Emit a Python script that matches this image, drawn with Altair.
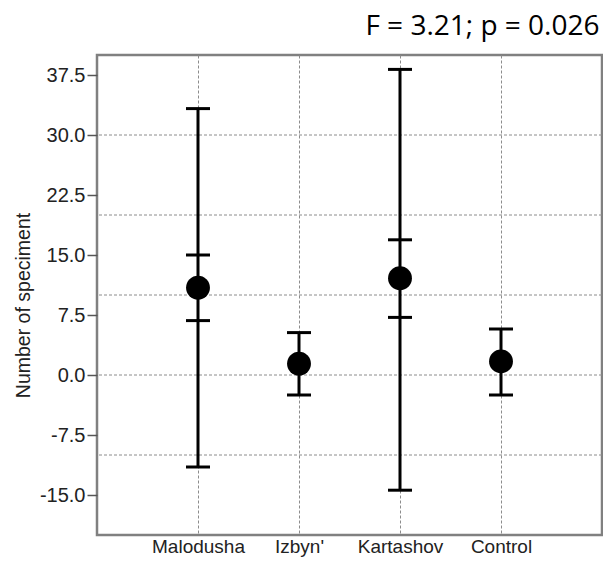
import altair as alt
import pandas as pd

groups = ["Malodusha", "Izbyn'", "Kartashov", "Control"]
means = [10.9, 1.4, 12.1, 1.7]
outer_low = [-11.5, -2.5, -14.4, -2.5]
outer_high = [33.3, 5.3, 38.2, 5.75]
inner_low = [6.8, None, 7.2, None]
inner_high = [15.0, None, 16.9, None]

y_ticks = [-15.0, -7.5, 0.0, 7.5, 15.0, 22.5, 30.0, 37.5]
h_grid = [-10, 0, 10, 20, 30]
title_text = "F = 3.21; p = 0.026"

main = pd.DataFrame({"group": groups, "mean": means, "lo": outer_low, "hi": outer_high})
caps_rows = []
for g, a, b, c, d in zip(groups, outer_low, outer_high, inner_low, inner_high):
    for v in (a, b, c, d):
        if v is not None:
            caps_rows.append({"group": g, "v": v})
caps = pd.DataFrame(caps_rows)
grid = pd.DataFrame({"g": h_grid})

FONT = "Liberation Sans"
yscale = alt.Scale(domain=[-20, 40], nice=False, zero=False)
xscale = alt.Scale(type="point", domain=groups, padding=1)

xaxis = alt.Axis(
    title=None, ticks=False, domain=False, labelFont=FONT, labelFontSize=19,
    labelColor="#222", labelPadding=2, labelAngle=0,
    grid=True, gridDash=[3, 2], gridColor="#8c8c8c", gridWidth=1,
)
yaxis = alt.Axis(
    values=y_ticks, title="Number of speciment",
    labelExpr="replace(format(datum.value, '.1f'), '\u2212', '-')",
    titleFont=FONT, titleFontSize=19.5, titleFontWeight="normal", titleColor="#222",
    titlePadding=6, titleY=250, labelFont=FONT, labelFontSize=20, labelColor="#222",
    labelPadding=2, tickSize=10, tickColor="#555", tickWidth=1.5,
    domain=False, grid=False,
)

grid_layer = alt.Chart(grid).mark_rule(
    color="#8c8c8c", strokeDash=[3, 2], strokeWidth=1
).encode(y=alt.Y("g:Q", scale=yscale, axis=yaxis))

bars = alt.Chart(main).mark_rule(color="black", strokeWidth=3).encode(
    x=alt.X("group:N", scale=xscale, axis=xaxis, sort=groups),
    y=alt.Y("lo:Q", scale=yscale, axis=yaxis),
    y2="hi:Q",
)

cap_layer = alt.Chart(caps).mark_tick(color="black", thickness=3, size=24, opacity=1).encode(
    x=alt.X("group:N", scale=xscale, axis=xaxis, sort=groups),
    y=alt.Y("v:Q", scale=yscale, axis=yaxis),
)

points = alt.Chart(main).mark_circle(color="black", size=570, opacity=1).encode(
    x=alt.X("group:N", scale=xscale, axis=xaxis, sort=groups),
    y=alt.Y("mean:Q", scale=yscale, axis=yaxis),
)

chart = alt.layer(grid_layer, bars, cap_layer, points).properties(
    width=505, height=480,
    title=alt.TitleParams(
        title_text, anchor="end", font="Open Sans", fontSize=28,
        fontWeight="normal", color="#000", offset=14, dx=-3,
    ),
    autosize=alt.AutoSizeParams(type="none"),
    padding={"left": 89, "top": 47, "right": 1, "bottom": 23},
).configure(background="white").configure_view(stroke="#808080", strokeWidth=2.5)

chart.save("out.html", embed_options={"renderer": "svg", "actions": False})
